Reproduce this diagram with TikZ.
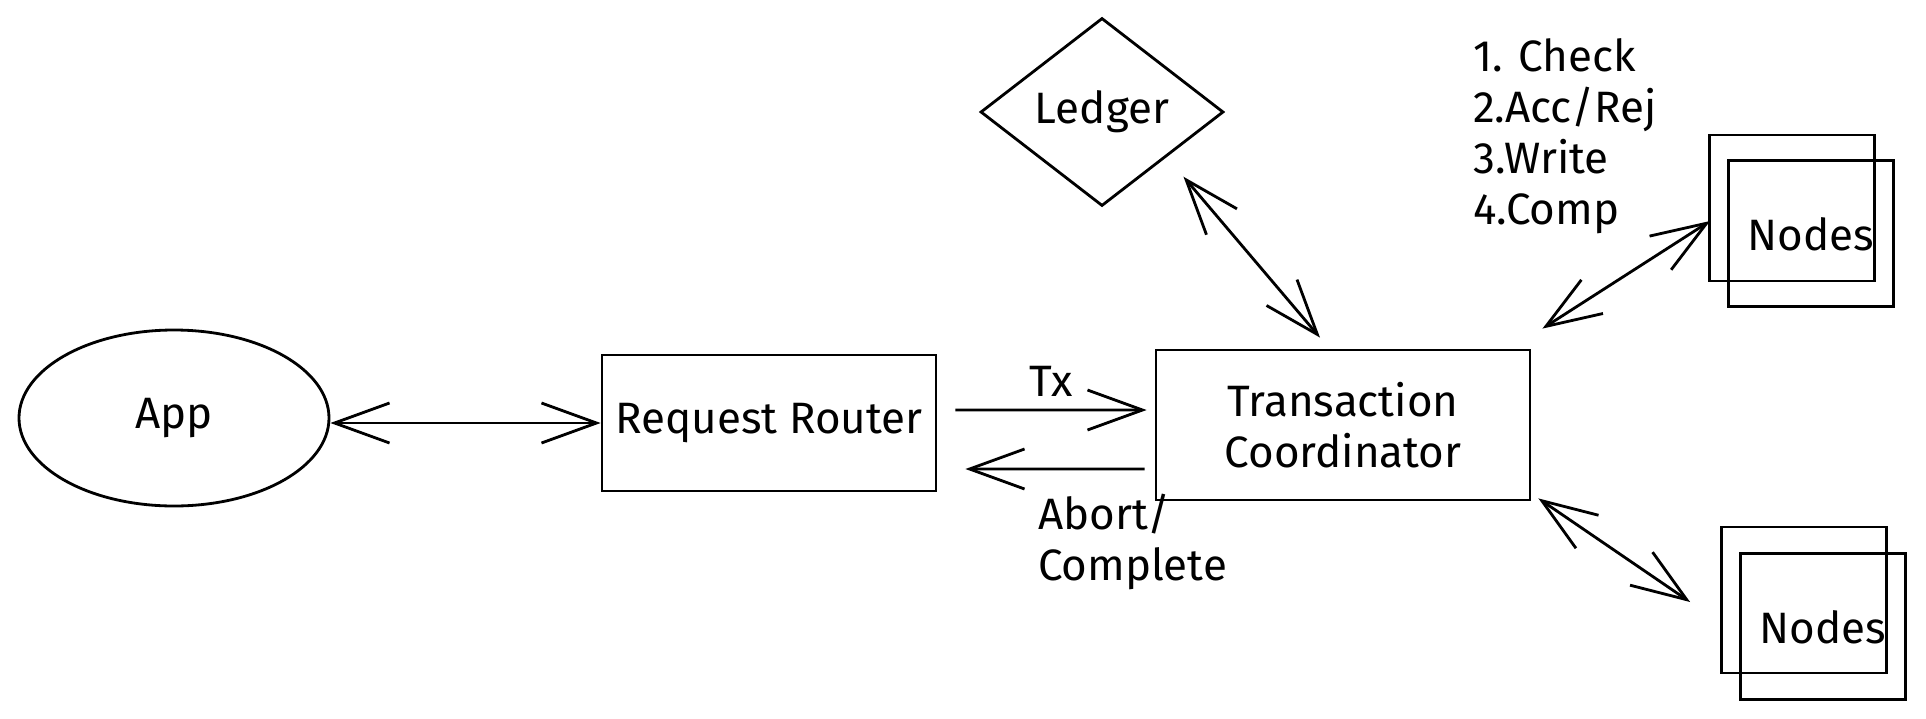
\documentclass[tikz,border=0pt]{standalone}
\usepackage{fontspec}
\setmainfont{Fira Sans}
\usetikzlibrary{positioning, arrows.meta, shapes.geometric}

\begin{document}
\begin{tikzpicture}[font=\fontsize{12.5}{14.5}\selectfont, line width=0.8pt,
  arr/.style={{Straight Barb[length=5.5mm, width=4mm]}-{Straight Barb[length=5.5mm, width=4mm]}},
  one/.style={-{Straight Barb[length=5.5mm, width=4mm]}},
  box/.style={draw, rectangle, inner sep=2pt, align=center},
  nodebox/.style={draw, rectangle, minimum width=1.65cm, minimum height=1.46cm}]
  \useasboundingbox (0,0) rectangle (19.26,7.18);
  \node[draw, ellipse, minimum width=3.1cm, minimum height=1.76cm] (app) at (1.74,3.00) {App};
  \node[box, minimum width=3.34cm, minimum height=1.36cm] (router) at (7.69,2.95) {Request Router};
  \node[box, minimum width=3.74cm, minimum height=1.5cm] (tc) at (13.43,2.93) {Transaction\\Coordinator};
  \node[draw, diamond, inner sep=0pt, minimum width=2.43cm, minimum height=1.88cm] (ledger) at (11.02,6.06) {Ledger};
  % two stacked node groups
  \node[nodebox] (nodesTopBack) at (17.92,5.10) {};
  \node[nodebox, below right=-1.23cm and -1.49cm of nodesTopBack] (nodesTop) {Nodes};
  \node[nodebox] (nodesBotBack) at (18.04,1.18) {};
  \node[nodebox, below right=-1.22cm and -1.49cm of nodesBotBack] (nodesBot) {Nodes};
  \node[anchor=west, align=left] (steps) at (14.6,5.82) {1. Check\\2.Acc/Rej\\3.Write\\4.Comp};
  \draw[arr] (app.east |- router.west) -- (router.west);
  \draw[one] ([xshift=1.8mm,yshift=1.3mm]router.east) -- node[above] (tx) {Tx} ([xshift=-0.8mm,yshift=1.5mm]tc.west);
  \draw[one] ([xshift=-1mm,yshift=-4.4mm]tc.west) -- ([xshift=2.8mm,yshift=-4.6mm]router.east);
  \node[anchor=north west, align=left] (abort) at (10.25,2.37) {Abort/\\Complete};
  \draw[arr] ([xshift=2mm,yshift=-1.7mm]ledger.south east) -- ([xshift=-2.3mm,yshift=1.1mm]tc.north);
  \draw[arr] ([xshift=1.1mm,yshift=2mm]tc.north east) -- ([xshift=0.2mm,yshift=-1.3mm]nodesTopBack.west);
  \draw[arr] ([xshift=0.7mm,yshift=0.3mm]tc.south east) -- ([xshift=-3mm,yshift=-0.2mm]nodesBotBack.west);
\end{tikzpicture}
\end{document}
